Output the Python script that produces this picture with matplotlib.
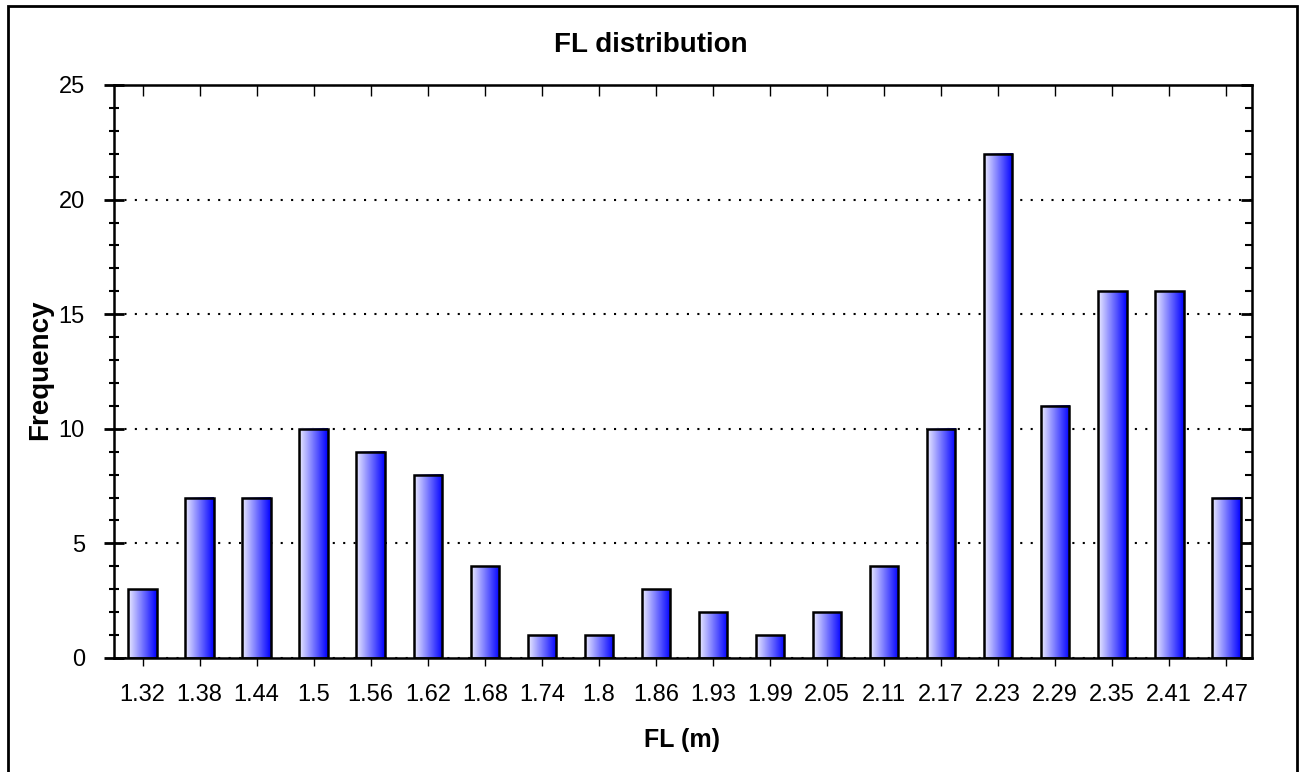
import numpy as np
import matplotlib.pyplot as plt
from matplotlib.colors import LinearSegmentedColormap
from matplotlib.patches import Rectangle
from matplotlib.ticker import MultipleLocator

plt.rcParams['font.family'] = ['Liberation Sans', 'DejaVu Sans']

labels = ['1.32', '1.38', '1.44', '1.5', '1.56', '1.62', '1.68', '1.74', '1.8', '1.86',
          '1.93', '1.99', '2.05', '2.11', '2.17', '2.23', '2.29', '2.35', '2.41', '2.47']
freq = [3, 7, 7, 10, 9, 8, 4, 1, 1, 3, 2, 1, 2, 4, 10, 22, 11, 16, 16, 7]

fig = plt.figure(figsize=(13.02, 7.72), dpi=100)
ax = fig.add_axes([0.0876, 0.1477, 0.874, 0.7422])

x = np.arange(len(labels))
w = 0.5
cmap = LinearSegmentedColormap.from_list('bluegrad', ['#ececff', '#0000ff'])
grad = np.linspace(0, 1, 256).reshape(1, -1)

bars = ax.bar(x, freq, width=w, facecolor='none', edgecolor='black', linewidth=1.8, zorder=3)
for b in bars:
    x0, y0 = b.get_x(), b.get_y()
    ax.imshow(grad, cmap=cmap, aspect='auto', extent=[x0, x0 + b.get_width(), y0, y0 + b.get_height()],
              zorder=2, interpolation='bilinear')

ax.set_xlim(-0.5, len(labels) - 0.55)
ax.set_ylim(0, 25)
ax.set_xticks(x)
ax.set_xticklabels(labels, fontsize=17)
ax.yaxis.set_major_locator(MultipleLocator(5))
ax.yaxis.set_minor_locator(MultipleLocator(1))
ax.tick_params(axis='y', which='major', direction='inout', length=14, width=2, pad=14, labelsize=17)
ax.tick_params(axis='y', which='minor', direction='inout', length=7, width=1.5)
ax.tick_params(axis='x', which='major', direction='inout', length=12, width=1, pad=13)
for s in ax.spines.values():
    s.set_linewidth(1.8)

# inward-only ticks on top and right
top = ax.secondary_xaxis('top')
top.set_xticks(x)
top.tick_params(direction='in', length=8, width=1, labeltop=False)
right = ax.secondary_yaxis('right')
right.yaxis.set_major_locator(MultipleLocator(5))
right.yaxis.set_minor_locator(MultipleLocator(1))
right.tick_params(which='major', direction='in', length=8, width=2, labelright=False)
right.tick_params(which='minor', direction='in', length=5, width=1.5)

ax.yaxis.grid(True, linestyle=(0, (1, 4)), color='black', linewidth=1.5, zorder=1)
ax.set_axisbelow(True)

fig.text(0.5, 1 - 45 / 772, 'FL distribution', fontsize=20, fontweight='bold', ha='center', va='center')
fig.text(40 / 1302, 1 - 370 / 772, 'Frequency', fontsize=20, fontweight='bold', rotation=90,
         ha='center', va='center')
fig.text(682 / 1302, 1 - 740 / 772, 'FL (m)', fontsize=18, fontweight='bold', ha='center', va='center')

fig.patches.append(Rectangle((8 / 1302, -0.01), 1289 / 1302, 1 - 6 / 772 + 0.01,
                             transform=fig.transFigure, fill=False, edgecolor='black', linewidth=2))

fig.savefig('out.png', dpi=100)
